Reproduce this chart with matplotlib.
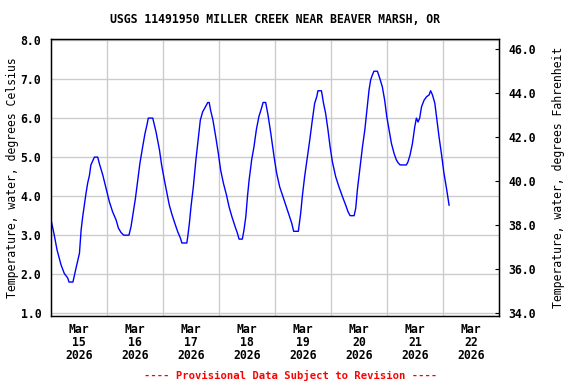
import datetime as dt
import matplotlib
matplotlib.use("Agg")
import matplotlib.pyplot as plt

# ==========================================
# DATA (hours after Mar 15 00:00, deg C)
# ==========================================

START = dt.datetime(2026, 3, 15)

hours = [0, 1.4, 2.6, 4.3, 5.7, 7.2, 7.7, 9.4, 10.7, 12.2, 12.9, 13.6, 14.3, 15,
         15.7, 16.5, 17.1, 17.9, 18.6, 20, 20.7, 22.2, 23.6, 25, 26.4, 27.9,
         28.9, 30, 31.2, 33.4, 34.3, 35.4, 36.2, 37.2, 38.1, 39.3, 40.3, 41.1,
         41.7, 43.6, 45, 46.5, 47.4, 48.6, 49.7, 50.7, 51.9, 53.1, 54.3, 55.5,
         56.1, 58.2, 58.6, 59.3, 60, 61, 62.1, 63.2, 64, 65, 66.4, 67.2, 67.8,
         68.4, 69.4, 70.6, 71.7, 72.7, 73.9, 75.2, 76.3, 77.5, 78.9, 79.9, 80.6,
         82, 82.7, 83.5, 84.2, 84.9, 86, 87, 88, 89.1, 90.2, 90.9, 92, 93, 94.2,
         95.6, 96.7, 98, 99.4, 100.6, 102, 103.2, 104, 106, 107, 107.7, 108.7,
         109.9, 110.9, 112, 113, 113.9, 114.4, 115.9, 116.8, 117.7, 118.7, 119.6,
         120.6, 122, 123.4, 124.9, 126.3, 127.3, 128.2, 129.9, 130.6, 131.3,
         132.3, 133.5, 134.5, 135.4, 136.3, 137, 137.7, 138.4, 139.9, 140.9, 142,
         143, 143.9, 144.9, 145.9, 147, 148, 148.7, 149.6, 152.3, 153, 153.9,
         154.9, 155.9, 156.6, 157.3, 158, 158.8, 159.9, 161, 162, 162.7, 163.5,
         164.5, 165.3, 166.3, 167.5, 168.4, 169.5, 170.6]

temp_c = [3.4, 3.0, 2.62, 2.24, 2.02, 1.9, 1.8, 1.8, 2.15, 2.54, 3.13, 3.48,
          3.77, 4.07, 4.33, 4.54, 4.8, 4.91, 5.0, 5.0, 4.84, 4.54, 4.2, 3.86,
          3.6, 3.39, 3.18, 3.07, 3.0, 3.0, 3.22, 3.65, 3.95, 4.41, 4.84, 5.27,
          5.61, 5.82, 6.0, 6.0, 5.65, 5.18, 4.8, 4.41, 4.07, 3.77, 3.52, 3.3,
          3.09, 2.92, 2.8, 2.8, 2.96, 3.3, 3.73, 4.24, 4.93, 5.52, 5.95, 6.16,
          6.31, 6.4, 6.4, 6.2, 5.95, 5.52, 5.1, 4.67, 4.33, 4.03, 3.73, 3.48,
          3.22, 3.05, 2.9, 2.9, 3.13, 3.48, 3.99, 4.41, 4.93, 5.27, 5.7, 6.04,
          6.25, 6.4, 6.4, 6.08, 5.61, 5.01, 4.59, 4.24, 3.99, 3.77, 3.52, 3.3,
          3.1, 3.1, 3.56, 3.99, 4.5, 5.01, 5.44, 5.95, 6.38, 6.55, 6.7, 6.7,
          6.38, 6.12, 5.7, 5.27, 4.88, 4.5, 4.24, 3.99, 3.77, 3.6, 3.5, 3.5,
          3.69, 4.16, 4.67, 5.27, 5.7, 6.2, 6.72, 6.98, 7.1, 7.2, 7.2, 7.02,
          6.8, 6.46, 6.04, 5.7, 5.35, 5.1, 4.93, 4.86, 4.8, 4.8, 4.88, 5.06,
          5.35, 5.78, 6.0, 5.9, 6.0, 6.29, 6.46, 6.55, 6.59, 6.7, 6.59, 6.38,
          6.0, 5.52, 5.01, 4.59, 4.2, 3.77]

day_labels = ["Mar\n15\n2026", "Mar\n16\n2026", "Mar\n17\n2026", "Mar\n18\n2026",
              "Mar\n19\n2026", "Mar\n20\n2026", "Mar\n21\n2026", "Mar\n22\n2026"]

fahrenheit_ticks = [34.0, 36.0, 38.0, 40.0, 42.0, 44.0, 46.0]

TITLE = "USGS 11491950 MILLER CREEK NEAR BEAVER MARSH, OR"
FOOTER = "---- Provisional Data Subject to Revision ----"

# ==========================================
# PLOT
# ==========================================

plt.rcParams["font.family"] = "DejaVu Sans Mono"
plt.rcParams["font.weight"] = "bold"
plt.rcParams["font.size"] = 8.3

times = [START + dt.timedelta(hours=h) for h in hours]

fig = plt.figure(figsize=(5.76, 3.84), dpi=100)
ax = fig.add_axes([51 / 576, 1 - 316 / 384, 448 / 576, 277 / 384])

ax.plot(times, temp_c, color="#0000ff", linewidth=1.0)

ax.set_xlim(START, START + dt.timedelta(days=8))
ax.set_ylim(0.93, 8.026)
ax.set_yticks([1, 2, 3, 4, 5, 6, 7, 8])
ax.set_yticklabels([f"{v:.1f}" for v in range(1, 9)])

# labels at noon, grid at midnight
noon_ticks = [START + dt.timedelta(days=i, hours=12) for i in range(8)]
mid_ticks = [START + dt.timedelta(days=i) for i in range(1, 8)]
ax.set_xticks(noon_ticks)
ax.set_xticklabels(day_labels, linespacing=1.0)
ax.set_xticks(mid_ticks, minor=True)

ax.tick_params(axis="x", which="both", length=0, pad=5)
ax.tick_params(axis="y", length=0, pad=7)

ax.grid(True, which="minor", axis="x", color="#cccccc", linewidth=1)
ax.grid(True, which="major", axis="y", color="#cccccc", linewidth=1)
ax.grid(False, which="major", axis="x")
ax.set_axisbelow(True)

for s in ax.spines.values():
    s.set_linewidth(1.0)
    s.set_color("black")

ax.set_ylabel("Temperature, water, degrees Celsius", labelpad=1.5)

ax2 = ax.twinx()
ax2.set_ylim(33.88, 46.45)
ax2.set_yticks(fahrenheit_ticks)
ax2.set_yticklabels([f"{v:.1f}" for v in fahrenheit_ticks])
ax2.tick_params(axis="y", direction="in", length=3, pad=7)
ax2.set_ylabel("Temperature, water, degrees Fahrenheit", labelpad=11.5)

ax.set_title(TITLE, pad=11.5, fontsize=8.3, fontweight="bold")
fig.text(291 / 576, 1 - 375 / 384, FOOTER, color="red", ha="center",
         va="center", fontsize=7.6, fontweight="bold")

fig.savefig("out.png", dpi=100)
